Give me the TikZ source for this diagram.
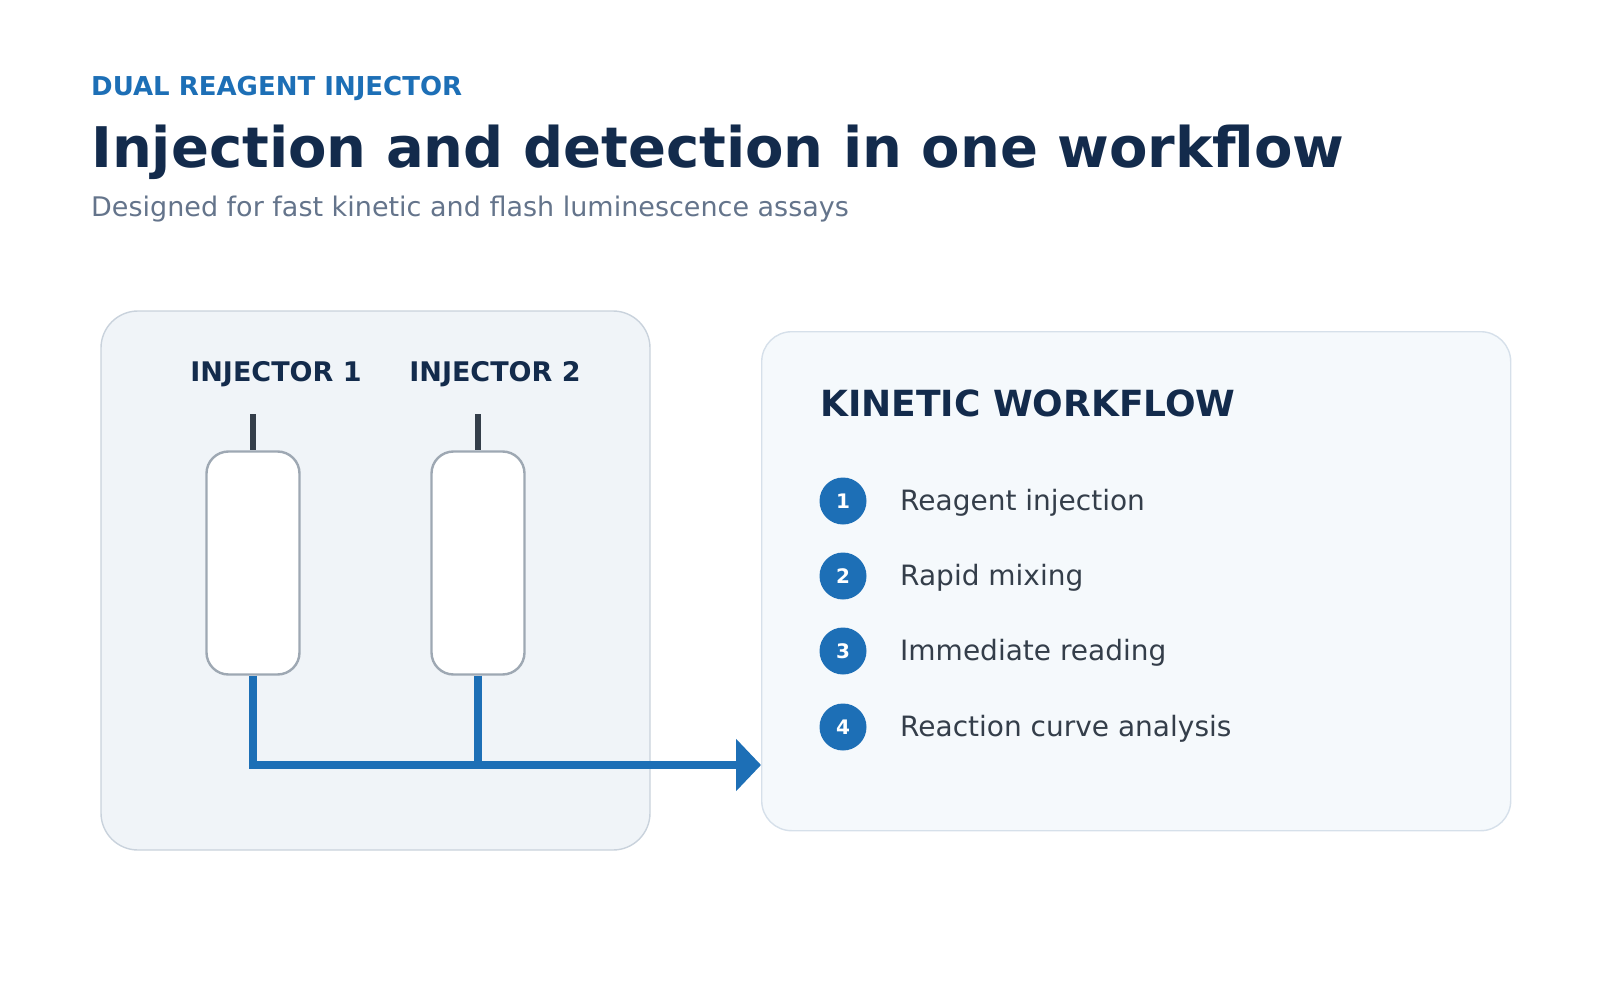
\documentclass[tikz,border=0pt]{standalone}
\usepackage{fontspec}
\setmainfont{DejaVu Sans}
\usepackage{tikz}
\usetikzlibrary{arrows.meta}

\definecolor{navy}{HTML}{132B4C}
\definecolor{accent}{HTML}{1D6FB6}
\definecolor{subgray}{HTML}{64748B}
\definecolor{textgray}{HTML}{343E4A}
\definecolor{panelfill}{HTML}{F0F4F8}
\definecolor{panelline}{HTML}{C9D2DC}
\definecolor{flowfill}{HTML}{F5F9FC}
\definecolor{flowline}{HTML}{D6E0EA}
\definecolor{barrelline}{HTML}{9EA8B3}
\definecolor{needlecol}{HTML}{343E4A}

\tikzset{
  panel/.style={draw=panelline, fill=panelfill, line width=1.4pt, rounded corners=37pt},
  flowpanel/.style={draw=flowline, fill=flowfill, line width=1.4pt, rounded corners=30pt},
  barrel/.style={draw=barrelline, fill=white, line width=2.4pt, rounded corners=22pt,
    minimum width=93pt, minimum height=223pt, inner sep=0pt},
  pipe/.style={accent, line width=7.5pt},
  needle/.style={needlecol, line width=6pt},
  stepnum/.style={circle, fill=accent, text=white, minimum size=47pt, inner sep=0pt,
    font=\fontsize{20}{20}\selectfont\bfseries},
  steptext/.style={anchor=west, inner sep=0pt, text=textgray, font=\fontsize{28}{32}\selectfont},
  headlabel/.style={inner sep=0pt, text=navy, font=\fontsize{27}{30}\selectfont\bfseries}
}

\begin{document}
\begin{tikzpicture}[x=1pt, y=-1pt]
    % Fix the page size
    \useasboundingbox (0,0) rectangle (1600,1000);

    % Draw the headings
    \node[anchor=base west, inner sep=0pt, text=accent, font=\fontsize{26}{30}\selectfont\bfseries] (kicker) at (91,96) {DUAL REAGENT INJECTOR};
    \node[anchor=base west, inner sep=0pt, text=navy, font=\fontsize{56}{64}\selectfont\bfseries] (title) at (91,168) {Injection and detection in one workflow};
    \node[anchor=base west, inner sep=0pt, text=subgray, font=\fontsize{27}{30}\selectfont] (subtitle) at (91,217) {Designed for fast kinetic and flash luminescence assays};

    % Draw the two panels
    \draw[panel] (101,311) rectangle (650,850);
    \node[flowpanel, anchor=north west, minimum width=749pt, minimum height=499pt] (flow) at (761,331) {};

    % Draw the injectors
    \node[headlabel] (labelA) at (276,374) {INJECTOR 1};
    \node[headlabel] (labelB) at (495,374) {INJECTOR 2};
    \node[barrel] (barrelA) at (253,563) {};
    \node[barrel] (barrelB) at (478,563) {};
    \coordinate (tipA) at (253,414);
    \coordinate (tipB) at (478,414);
    \draw[needle] (tipA) -- (barrelA.north);
    \draw[needle] (tipB) -- (barrelB.north);

    % Draw the reagent lines
    \coordinate (join) at (478,765);
    \coordinate (outlet) at (flow.west |- join);
    \draw[pipe, -{Triangle[length=25pt, width=51pt]}] (barrelA.south) |- (outlet);
    \draw[pipe] (barrelB.south) -- (join);

    % Label the workflow steps
    \node[anchor=west, inner sep=0pt, text=navy, font=\fontsize{36}{40}\selectfont\bfseries] (flowtitle) at (820,403) {KINETIC WORKFLOW};
    \node[stepnum] (one) at (843,501) {1};
    \node[stepnum] (two) at (843,576) {2};
    \node[stepnum] (three) at (843,651) {3};
    \node[stepnum] (four) at (843,727) {4};
    \node[steptext] (injtext) at (900,503) {Reagent injection};
    \node[steptext] (mixtext) at (900,578) {Rapid mixing};
    \node[steptext] (readtext) at (900,653) {Immediate reading};
    \node[steptext] (curvetext) at (900,729) {Reaction curve analysis};
\end{tikzpicture}
\end{document}
